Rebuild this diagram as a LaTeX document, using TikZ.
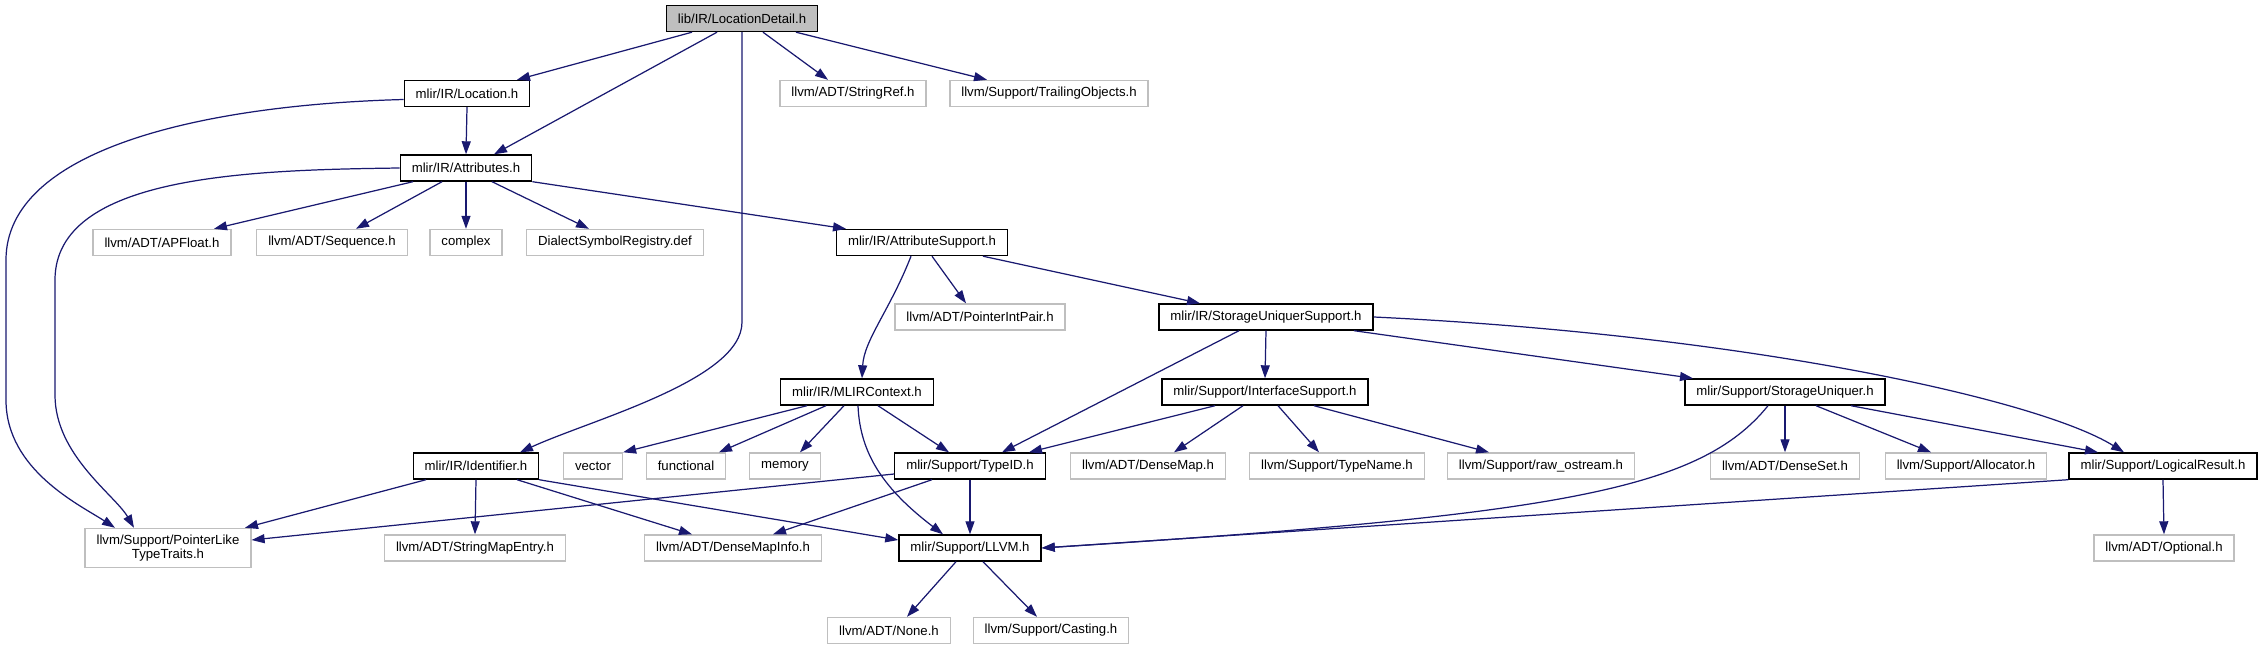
\documentclass[tikz,border=0pt]{standalone}
\usepackage{fontspec}
\setmainfont{Liberation Sans}
\definecolor{edgeblue}{RGB}{25,25,112}
\definecolor{boxgray}{RGB}{191,191,191}
\usetikzlibrary{arrows.meta,calc}

\begin{document}
\begin{tikzpicture}[x=0.02cm, y=-0.02cm,
  hdr/.style={rectangle, draw=black, fill=white, line width=0.8pt,
              inner xsep=0.23cm, inner ysep=0pt, minimum height=0.52cm,
              font=\fontsize{7.5}{8}\selectfont},
  root/.style={hdr, fill=boxgray},
  ext/.style={hdr, draw=boxgray},
  dep/.style={-{Triangle[length=0.26cm, width=0.18cm]}, draw=edgeblue, line width=0.7pt}
]
\useasboundingbox (0,0) rectangle (2263,649);

% Rank 0-2: the header and its direct includes
\node[root] (ld) at (742,18.5) {lib/IR/LocationDetail.h};
\node[hdr] (loc) at (467,93.5) {mlir/IR/Location.h};
\node[ext] (strref) at (853,93.5) {llvm/ADT/StringRef.h};
\node[ext] (trail) at (1049,93.5) {llvm/Support/TrailingObjects.h};
\node[hdr] (attr) at (466,168) {mlir/IR/Attributes.h};

% Rank 3-4
\node[ext] (apfloat) at (162,242.5) {llvm/ADT/APFloat.h};
\node[ext] (seq) at (332,242.5) {llvm/ADT/Sequence.h};
\node[ext] (cplx) at (466,242.5) {complex};
\node[ext] (dsr) at (615,242.5) {DialectSymbolRegistry.def};
\node[hdr] (attrsup) at (922,242.5) {mlir/IR/AttributeSupport.h};
\node[ext] (pip) at (980,317) {llvm/ADT/PointerIntPair.h};
\node[hdr] (sus) at (1266,317) {mlir/IR/StorageUniquerSupport.h};

% Rank 5
\node[hdr] (mctx) at (857,392) {mlir/IR/MLIRContext.h};
\node[hdr] (ifsup) at (1265,392) {mlir/Support/InterfaceSupport.h};
\node[hdr] (su) at (1785,392) {mlir/Support/StorageUniquer.h};

% Rank 6
\node[hdr] (ident) at (476,466) {mlir/IR/Identifier.h};
\node[ext] (vec) at (593,466) {vector};
\node[ext] (func) at (686,466) {functional};
\node[ext] (mem) at (785,466) {memory};
\node[hdr] (tid) at (970,466) {mlir/Support/TypeID.h};
\node[ext] (dmap) at (1148,466) {llvm/ADT/DenseMap.h};
\node[ext] (tname) at (1337,466) {llvm/Support/TypeName.h};
\node[ext] (rawos) at (1541,466) {llvm/Support/raw\_ostream.h};
\node[ext] (dset) at (1785,466) {llvm/ADT/DenseSet.h};
\node[ext] (alloc) at (1966,466) {llvm/Support/Allocator.h};
\node[hdr] (lres) at (2163,466) {mlir/Support/LogicalResult.h};

% Rank 7-8
\node[ext, align=center, minimum height=0.78cm] (plike) at (168,548) {llvm/Support/PointerLike\\TypeTraits.h};
\node[ext] (smentry) at (475,548) {llvm/ADT/StringMapEntry.h};
\node[ext] (dminfo) at (733,548) {llvm/ADT/DenseMapInfo.h};
\node[hdr] (llvm) at (970,548) {mlir/Support/LLVM.h};
\node[ext] (opt) at (2164,548) {llvm/ADT/Optional.h};
\node[ext] (none) at (889,630.5) {llvm/ADT/None.h};
\node[ext] (cast) at (1051,630.5) {llvm/Support/Casting.h};

% LocationDetail.h
\draw[dep] ($(ld.south)+(-50,0)$) -- ($(loc.north)+(50,0)$);
\draw[dep] ($(ld.south)+(-25,0)$) -- ($(attr.north)+(28,0)$);
\draw[dep] (ld.south) -- ++(0,290) .. controls (742,380) and (590,420) .. ($(ident.north)+(44,0)$);
\draw[dep] ($(ld.south)+(21,0)$) -- ($(strref.north)+(-25,0)$);
\draw[dep] ($(ld.south)+(54,0)$) -- ($(trail.north)+(-62,0)$);

% Location.h
\draw[dep] (loc.south) -- (attr.north);
\draw[dep] ($(loc.west)+(0,6)$) .. controls (200,105) and (6,150) .. (6,260) -- (6,400)
  .. controls (6,470) and (80,505) .. ($(plike.north)+(-53,0)$);

% Attributes.h
\draw[dep] (attr.west) .. controls (250,170) and (55,175) .. (55,280) -- (55,395)
  .. controls (55,455) and (115,495) .. ($(plike.north)+(-34,0)$);
\draw[dep] ($(attr.south)+(-53,0)$) -- ($(apfloat.north)+(52,0)$);
\draw[dep] ($(attr.south)+(-24,0)$) -- ($(seq.north)+(24,0)$);
\draw[dep] (attr.south) -- (cplx.north);
\draw[dep] ($(attr.south)+(26,0)$) -- ($(dsr.north)+(-26,0)$);
\draw[dep] (attr.south east) -- ($(attrsup.north)+(-76,0)$);

% AttributeSupport.h
\draw[dep] ($(attrsup.south)+(10,0)$) -- ($(pip.north)+(-14,0)$);
\draw[dep] ($(attrsup.south)+(-11,0)$) .. controls (890,310) and (864,340) .. ($(mctx.north)+(5,0)$);
\draw[dep] ($(attrsup.south)+(61,0)$) -- ($(sus.north)+(-66,0)$);

% StorageUniquerSupport.h
\draw[dep] ($(sus.south)+(-27,0)$) -- ($(tid.north)+(32,0)$);
\draw[dep] (sus.south) -- (ifsup.north);
\draw[dep] ($(sus.south)+(88,0)$) -- ($(su.north)+(-92,0)$);
\draw[dep] (sus.east) .. controls (1750,335) and (2040,400) .. ($(lres.north)+(-39,0)$);

% MLIRContext.h
\draw[dep] ($(mctx.south)+(-50,0)$) -- (vec.north east);
\draw[dep] ($(mctx.south)+(-31,0)$) -- ($(func.north)+(33,0)$);
\draw[dep] ($(mctx.south)+(-13,0)$) -- ($(mem.north)+(15,0)$);
\draw[dep] ($(mctx.south)+(21,0)$) -- ($(tid.north)+(-21,0)$);
\draw[dep] ($(mctx.south)+(1,0)$) .. controls (860,455) and (885,490) .. ($(llvm.north)+(-27,0)$);

% InterfaceSupport.h
\draw[dep] ($(ifsup.south)+(-50,0)$) -- ($(tid.north)+(59,0)$);
\draw[dep] ($(ifsup.south)+(-22,0)$) -- ($(dmap.north)+(26,0)$);
\draw[dep] ($(ifsup.south)+(13,0)$) -- ($(tname.north)+(-18,0)$);
\draw[dep] ($(ifsup.south)+(49,0)$) -- ($(rawos.north)+(-52,0)$);

% StorageUniquer.h
\draw[dep] ($(su.south)+(-17,0)$) .. controls (1700,490) and (1560,515) .. (llvm.east);
\draw[dep] (su.south) -- (dset.north);
\draw[dep] ($(su.south)+(31,0)$) -- ($(alloc.north)+(-35,0)$);
\draw[dep] ($(su.south)+(66,0)$) -- ($(lres.north)+(-65,0)$);

% Identifier.h
\draw[dep] ($(ident.south)+(-50,0)$) -- ($(plike.north)+(77,0)$);
\draw[dep] (ident.south) -- (smentry.north);
\draw[dep] ($(ident.south)+(41,0)$) -- ($(dminfo.north)+(-41,0)$);
\draw[dep] ($(ident.south)+(63,0)$) -- ($(llvm.west)+(0,-8)$);

% TypeID.h
\draw[dep] ($(tid.west)+(0,8)$) -- ($(plike.east)+(0,-8)$);
\draw[dep] ($(tid.south)+(-38,0)$) -- ($(dminfo.north)+(40,0)$);
\draw[dep] (tid.south) -- (llvm.north);

% LogicalResult.h
\draw[dep] (lres.south west) -- (llvm.east);
\draw[dep] (lres.south) -- (opt.north);

% LLVM.h
\draw[dep] ($(llvm.south)+(-14,0)$) -- ($(none.north)+(18,0)$);
\draw[dep] ($(llvm.south)+(13,0)$) -- ($(cast.north)+(-14,0)$);
\end{tikzpicture}
\end{document}
